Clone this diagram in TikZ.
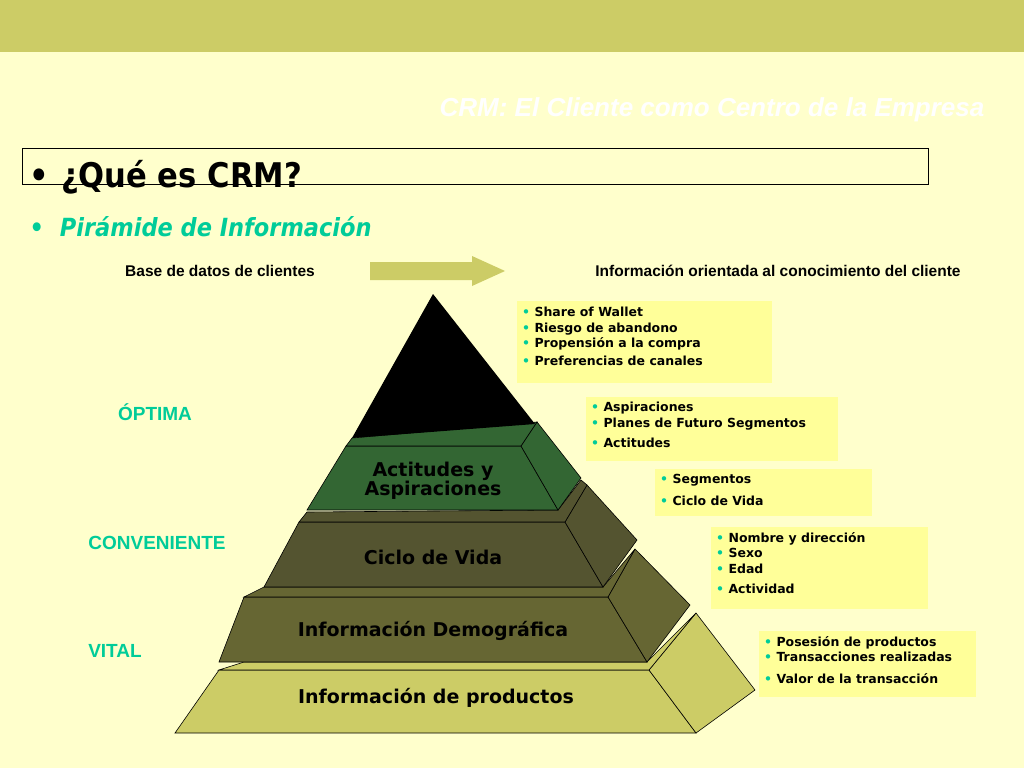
\documentclass[tikz,border=0pt]{standalone}
\usepackage{fontspec}
\setmainfont{Liberation Sans}
\newfontfamily\verd{DejaVu Sans}
\newfontfamily\cond{DejaVu Sans Condensed}
\usetikzlibrary{positioning}
\definecolor{bgyellow}{HTML}{FFFFCC}
\definecolor{band}{HTML}{CCCC66}
\definecolor{boxyellow}{HTML}{FFFF99}
\definecolor{mint}{HTML}{00CC99}
\definecolor{greenlayer}{HTML}{336633}
\definecolor{olivedark}{HTML}{545430}
\definecolor{olivemid}{HTML}{666633}
\tikzset{
  level/.style={draw=black,line width=.6pt},
  layertext/.style={font=\verd\bfseries\fontsize{19}{22}\selectfont,align=center},
  tier/.style={font=\bfseries\fontsize{19}{21}\selectfont,text=mint},
  infobox/.style={fill=boxyellow,anchor=north west,inner xsep=5pt,inner ysep=0pt,align=left,
    font=\verd\bfseries\fontsize{12.5}{16}\selectfont},
}
\newcommand{\bl}{{\color{mint}\textbullet}\ }
\begin{document}
\begin{tikzpicture}[x=1pt,y=-1pt]
    \useasboundingbox(0,0)rectangle(1024,768);
    \fill[bgyellow](0,0)rectangle(1024,768);
    \fill[band](0,0)rectangle(1024,52);
    \node[text=white,font=\bfseries\itshape\fontsize{26}{28}\selectfont](title)at(712,110){CRM: El Cliente como Centro de la Empresa};
    \draw[line width=.8pt](22,148)rectangle(928,184);
    \node[anchor=west,font=\cond\bfseries\fontsize{34}{36}\selectfont](que)at(26,177){\textbullet\hspace{12pt}¿Qué es CRM?};
    \node[anchor=west,text=mint,font=\cond\bfseries\itshape\fontsize{25}{27}\selectfont](pir)at(26,227){\textbullet\hspace{16pt}Pirámide de Información};
    \node[font=\bfseries\fontsize{15.5}{17}\selectfont](base)at(220,271){Base de datos de clientes};
    \node[font=\bfseries\fontsize{15.5}{17}\selectfont](orient)at(778,271){Información orientada al conocimiento del cliente};
    \fill[band](370,262)--(472,262)--(472,256)--(505,271)--(472,286)--(472,280)--(370,280)--cycle;
    % pyramid
    \fill[band,level](219,670)--(649,670)--(696,733)--(175,733)--cycle;
    \fill[band,level](649,670)--(696,613)--(755,690)--(696,733)--cycle;
    \fill[band,level](219,670)--(244,662)--(647,662)--(696,613)--(649,670)--cycle;
    \fill[olivemid,level](244,597)--(608,597)--(647,662)--(219,662)--cycle;
    \fill[olivemid,level](608,597)--(635,549)--(690,605)--(647,662)--cycle;
    \fill[olivemid,level](244,597)--(264,587)--(603,587)--(635,549)--(608,597)--cycle;
    \fill[olivedark,level](299,522)--(565,522)--(603,587)--(264,587)--cycle;
    \fill[olivedark,level](565,522)--(587,485)--(637,540)--(603,587)--cycle;
    \fill[olivedark,level](299,522)--(307,512)--(558,510)--(581,480)--(587,485)--(565,522)--cycle;
    \fill[greenlayer,level](346,446)--(521,446)--(558,510)--(307,510)--cycle;
    \fill[greenlayer,level](521,446)--(537,422)--(581,478)--(558,510)--cycle;
    \fill[greenlayer,level](352,438)--(537,422)--(521,446)--(346,446)--cycle;
    \fill[black](433,294)--(535,424)--(352,438)--cycle;
    \node[layertext](actit)at(433,481){Actitudes y\\[-3pt]Aspiraciones};
    \node[layertext](ciclo)at(433,557){Ciclo de Vida};
    \node[layertext](demo)at(433,631){Información Demográfica};
    \node[layertext](prod)at(436,698){Información de productos};
    \node[tier](optima)at(155,412){ÓPTIMA};
    \node[tier](conv)at(157,543){CONVENIENTE};
    \node[tier](vital)at(115,651){VITAL};
    % boxes
    \fill[boxyellow](517,301)rectangle(772,383);
    \fill[boxyellow](586,397)rectangle(838,461);
    \fill[boxyellow](655,469)rectangle(872,516);
    \fill[boxyellow](711,527)rectangle(928,609);
    \fill[boxyellow](759,631)rectangle(976,697);
    \node[infobox,fill=none](b1)at(517,307){\bl Share of Wallet\\[-0.5pt]\bl Riesgo de abandono\\[-0.5pt]\bl Propensión a la compra\\[2pt]\bl Preferencias de canales};
    \node[infobox,fill=none](b2)at(586,402){\bl Aspiraciones\\[-0.5pt]\bl Planes de Futuro Segmentos\\[4pt]\bl Actitudes};
    \node[infobox,fill=none](b3)at(655,474){\bl Segmentos\\[6pt]\bl Ciclo de Vida};
    \node[infobox,fill=none](b4)at(711,532){\bl Nombre y dirección\\[-0.5pt]\bl Sexo\\[-0.5pt]\bl Edad\\[4pt]\bl Actividad};
    \node[infobox,fill=none](b5)at(759,636){\bl Posesión de productos\\[-0.5pt]\bl Transacciones realizadas\\[6pt]\bl Valor de la transacción};
\end{tikzpicture}
\end{document}
